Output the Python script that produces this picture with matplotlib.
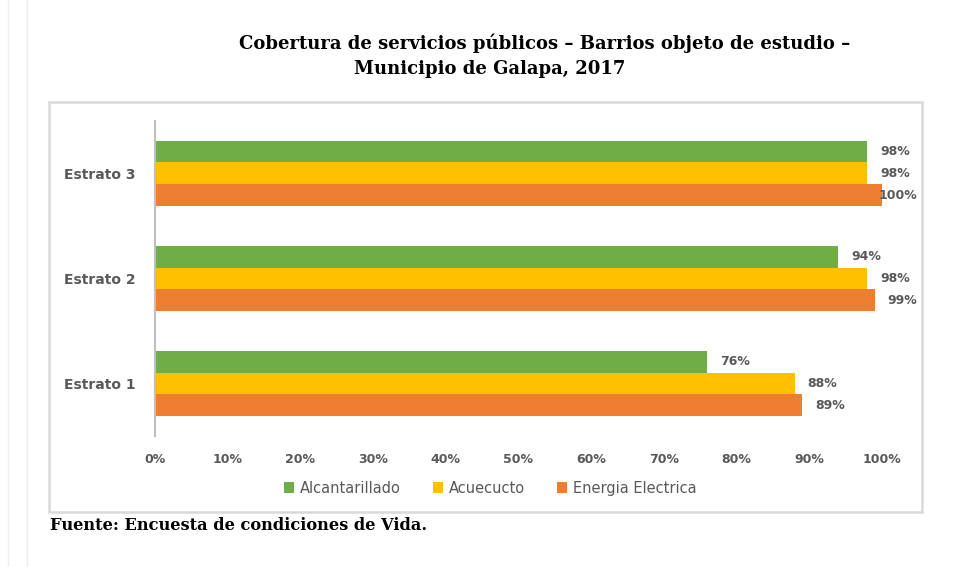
import matplotlib.pyplot as plt
from matplotlib.patches import Rectangle
from matplotlib.lines import Line2D
import numpy as np

categorias = ['Estrato 1', 'Estrato 2', 'Estrato 3']
alcantarillado = [76, 94, 98]
acueducto = [88, 98, 98]
energia = [89, 99, 100]
series = ['Alcantarillado', 'Acuecucto', 'Energia Electrica']
xticks = [0, 10, 20, 30, 40, 50, 60, 70, 80, 90, 100]

colores = {'Alcantarillado': '#70AD47', 'Acuecucto': '#FFC000', 'Energia Electrica': '#ED7D31'}
gris = '#595959'

fig = plt.figure(figsize=(9.8, 5.67), dpi=100)
ax = fig.add_axes([0.158, 0.231, 0.742, 0.556])

y = np.arange(len(categorias))
h = 0.207
# verde arriba, amarillo en medio, naranja abajo
datos = [(alcantarillado, h, 'Alcantarillado'), (acueducto, 0, 'Acuecucto'), (energia, -h, 'Energia Electrica')]
for valores, off, nombre in datos:
    ax.barh(y + off, valores, height=h, color=colores[nombre], label=nombre)
    for yi, v in zip(y, valores):
        dx = 13 if v < 99.5 else -3
        ax.annotate(f'{v}%', (v, yi + off), xytext=(dx, 0), textcoords='offset pixels',
                    ha='left', va='center', fontsize=9, fontweight='bold', color=gris)

ax.set_xlim(0, 100)
ax.set_ylim(-0.5, 2.5)
ax.set_xticks(xticks)
ax.set_xticklabels([f'{t}%' for t in xticks])
ax.set_yticks(y)
ax.set_yticklabels(categorias)
ax.tick_params(axis='both', length=0, colors=gris, labelsize=9)
ax.tick_params(axis='y', labelsize=10, pad=14)
ax.tick_params(axis='x', pad=12)
for lab in ax.get_xticklabels() + ax.get_yticklabels():
    lab.set_fontweight('bold')
for s in ['top', 'right', 'bottom']:
    ax.spines[s].set_visible(False)
ax.spines['left'].set_color('#BFBFBF')
ax.spines['left'].set_linewidth(1.5)

fig.legend(loc='center', bbox_to_anchor=(0.5, 0.139), ncol=3, frameon=False,
           fontsize=10.5, labelcolor=gris, handlelength=0.7, handleheight=0.7,
           columnspacing=2.2, handletextpad=0.4)

# marco del grafico
fig.patches.append(Rectangle((0.05, 0.097), 0.891, 0.723, transform=fig.transFigure,
                             fill=False, edgecolor='#D9D9D9', linewidth=1.8))
# margenes de la pagina
for xl in [0.008, 0.028]:
    fig.lines.append(Line2D([xl, xl], [0, 1], transform=fig.transFigure, color='#EEEEEE', linewidth=1))

fig.text(0.556, 0.923, 'Cobertura de servicios públicos – Barrios objeto de estudio –',
         ha='center', va='center', family='DejaVu Serif', fontweight='bold', fontsize=13)
fig.text(0.5, 0.879, 'Municipio de Galapa, 2017',
         ha='center', va='center', family='DejaVu Serif', fontweight='bold', fontsize=13)
fig.text(0.051, 0.074, 'Fuente: Encuesta de condiciones de Vida.',
         ha='left', va='center', family='DejaVu Serif', fontweight='bold', fontsize=11.7)

fig.savefig('out.png', dpi=100)
